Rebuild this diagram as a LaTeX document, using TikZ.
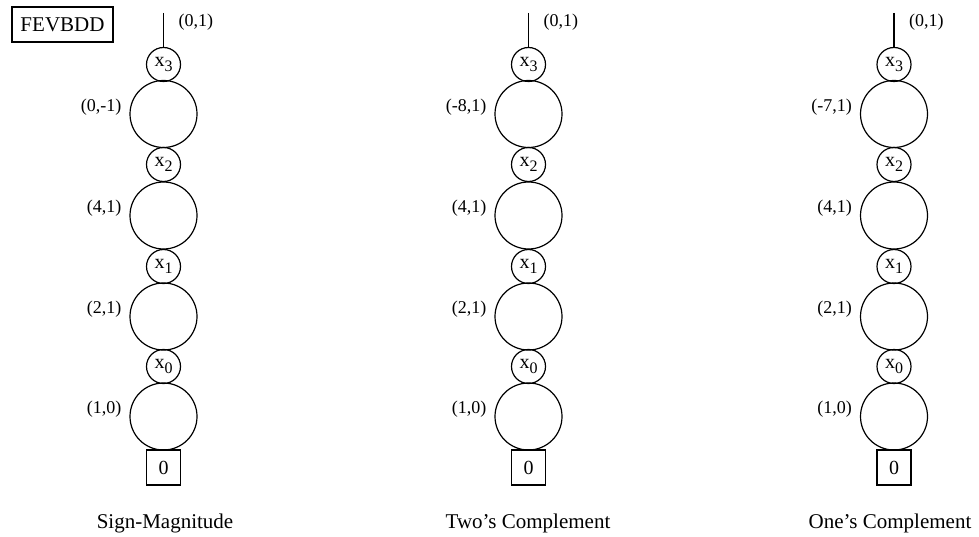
\documentclass[tikz,border=0pt]{standalone}
\usepackage{fontspec}
\setmainfont{Liberation Serif}
\begin{document}
\begin{tikzpicture}[x=1pt,y=-1pt,
  big/.style={draw,circle,line width=1.2pt,minimum size=67pt,inner sep=0pt},
  small/.style={draw,circle,line width=1.2pt,minimum size=34pt,inner sep=0pt,font=\fontsize{20}{20}\selectfont},
  term/.style={draw,rectangle,line width=1.1pt,minimum width=34pt,minimum height=35pt,inner sep=0pt,font=\fontsize{20}{20}\selectfont},
  lab/.style={anchor=east,inner sep=0pt,font=\fontsize{18}{18}\selectfont},
  toplab/.style={anchor=west,inner sep=0pt,font=\fontsize{18}{18}\selectfont},
  captext/.style={inner sep=0pt,font=\fontsize{21}{21}\selectfont},
  edge/.style={line width=1.2pt}]
\useasboundingbox (0,0) rectangle (979,537);
\newcommand{\xv}[1]{x\raisebox{-5pt}{\fontsize{16}{16}\selectfont #1}}
\node[draw,rectangle,line width=1.1pt,minimum width=101pt,minimum height=35pt,inner sep=0pt,font=\fontsize{21}{21}\selectfont] (title) at (62.5,24.5) {FEVBDD};
\foreach \col/\cx/\la in {A/163.5/{(0,-1)}, B/528.5/{(-8,1)}, C/894/{(-7,1)}}{
  \coordinate (\col top) at (\cx,13);
  \node[small] (\col x3) at (\cx,64.5) {\xv{3}};
  \node[big] (\col n3) at (\cx,114) {};
  \node[small] (\col x2) at (\cx,164.5) {\xv{2}};
  \node[big] (\col n2) at (\cx,215.5) {};
  \node[small] (\col x1) at (\cx,266.5) {\xv{1}};
  \node[big] (\col n1) at (\cx,316.5) {};
  \node[small] (\col x0) at (\cx,366.5) {\xv{0}};
  \node[big] (\col n0) at (\cx,416.5) {};
  \node[term] (\col t) at (\cx,467.5) {0};
  \draw[edge] (\col top) -- (\col x3.north);
  \node[toplab] (\col l4) at (\cx+15,22) {(0,1)};
  \node[lab] (\col l3) at (\cx-42,107) {\la};
  \node[lab] (\col l2) at (\cx-42,208.5) {(4,1)};
  \node[lab] (\col l1) at (\cx-42,309) {(2,1)};
  \node[lab] (\col l0) at (\cx-42,409.5) {(1,0)};
}
\node[captext] (capA) at (165,523) {Sign-Magnitude};
\node[captext] (capB) at (528,523) {Two’s Complement};
\node[captext] (capC) at (890,523) {One’s Complement};
\end{tikzpicture}
\end{document}
